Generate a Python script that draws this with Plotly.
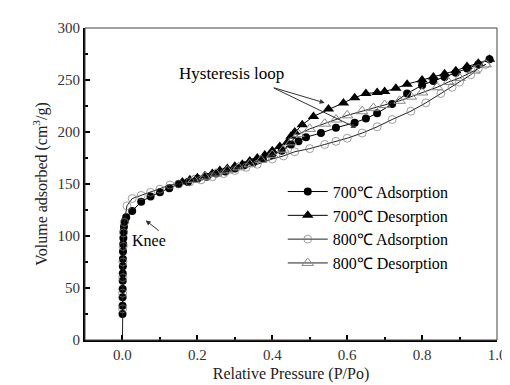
import plotly.graph_objects as go

# 700 °C adsorption
ads700_x = [0.0002, 0.0003, 0.0004, 0.0005, 0.0006, 0.0008, 0.001, 0.0012, 0.0015, 0.002, 0.0025, 0.003,
            0.004, 0.006, 0.01, 0.026, 0.05, 0.075, 0.10, 0.125, 0.15, 0.175, 0.20, 0.225, 0.25, 0.275,
            0.30, 0.325, 0.35, 0.375, 0.40, 0.425, 0.45, 0.47, 0.49, 0.53, 0.57, 0.62, 0.65, 0.68,
            0.72, 0.76, 0.80, 0.83, 0.86, 0.89, 0.92, 0.95, 0.98]
ads700_y = [25, 33, 41, 49, 57, 64, 71, 78, 85, 92, 98, 104,
            109, 114, 118, 124, 133, 138, 142, 146, 150, 152, 155, 157, 160, 162,
            165, 168, 171, 174, 178, 182, 188, 191, 195, 199, 204, 209, 213, 218,
            227, 237, 245, 249, 253, 257, 261, 265, 270]

# 700 °C desorption
des700_x = [0.98, 0.95, 0.92, 0.89, 0.86, 0.83, 0.80, 0.76, 0.73, 0.70, 0.68, 0.65, 0.62, 0.59,
            0.55, 0.51, 0.48, 0.46, 0.45, 0.44, 0.42, 0.40, 0.38, 0.36, 0.34, 0.32, 0.30, 0.28,
            0.26, 0.24, 0.22, 0.20, 0.18, 0.16]
des700_y = [270, 266, 263, 259, 256, 253, 250, 246, 242, 239, 238, 237, 233, 228,
            222, 215, 207, 200, 196, 190, 186, 182, 178, 175, 172, 169, 167, 165,
            163, 160, 158, 156, 154, 152]

# 800 °C adsorption
ads800_x = [0.0, 0.0003, 0.0005, 0.0008, 0.0012, 0.002, 0.003, 0.005, 0.012, 0.026, 0.05, 0.075,
            0.10, 0.127, 0.15, 0.18, 0.21, 0.24, 0.27, 0.30, 0.33, 0.36, 0.40, 0.43, 0.46, 0.50,
            0.54, 0.57, 0.60, 0.64, 0.68, 0.72, 0.77, 0.81, 0.85, 0.88, 0.90, 0.93, 0.95, 0.97]
ads800_y = [0, 30, 45, 60, 75, 90, 103, 113, 129, 136, 139, 142,
            145, 149, 150, 152, 154, 157, 160, 163, 166, 169, 174, 177, 181, 184,
            188, 191, 194, 199, 205, 212, 220, 228, 237, 243, 248, 255, 261, 265]
ads800_size = [0] + [8] * (len(ads800_x) - 1)

# 800 °C desorption
des800_x = [0.97, 0.94, 0.90, 0.87, 0.84, 0.80, 0.77, 0.74, 0.70, 0.67, 0.64, 0.60, 0.57,
            0.54, 0.50, 0.47, 0.45, 0.43, 0.40, 0.37, 0.34, 0.31, 0.28, 0.25, 0.22, 0.19]
des800_y = [265, 259, 252, 248, 243, 238, 234, 230, 226, 223, 220, 216, 212,
            208, 203, 198, 190, 183, 178, 173, 169, 166, 163, 160, 157, 154]

series_names = ["700℃ Adsorption", "700℃ Desorption", "800℃ Adsorption", "800℃ Desorption"]
x_ticks = [0.0, 0.2, 0.4, 0.6, 0.8, 1.0]
y_ticks = [0, 50, 100, 150, 200, 250, 300]

FONT = "Liberation Serif"

fig = go.Figure()
fig.add_trace(go.Scatter(x=ads700_x, y=ads700_y, name=series_names[0], mode="lines+markers",
                         line=dict(color="black", width=1),
                         marker=dict(symbol="circle", size=8, color="black")))
fig.add_trace(go.Scatter(x=des700_x, y=des700_y, name=series_names[1], mode="lines+markers",
                         line=dict(color="black", width=1),
                         marker=dict(symbol="triangle-up", size=10, color="black")))
fig.add_trace(go.Scatter(x=ads800_x, y=ads800_y, name=series_names[2], mode="lines+markers",
                         line=dict(color="#222", width=1),
                         marker=dict(symbol="circle-open", size=ads800_size, color="#777",
                                     line=dict(width=1))))
fig.add_trace(go.Scatter(x=des800_x, y=des800_y, name=series_names[3], mode="lines+markers",
                         line=dict(color="#222", width=1),
                         marker=dict(symbol="triangle-up-open", size=10, color="#888",
                                     line=dict(width=1))))

# frame (top/right thin)
fig.add_shape(type="rect", xref="paper", yref="paper", x0=0, y0=0, x1=1, y1=1,
              line=dict(color="#444", width=1))

# annotations
fig.add_annotation(x=0.40, y=243, text="Hysteresis loop", showarrow=False,
                   xanchor="center", yanchor="bottom", yshift=2, xshift=-41,
                   font=dict(family=FONT, size=17, color="black"))
fig.add_annotation(x=0.54, y=228, ax=0.40, ay=243, axref="x", ayref="y",
                   xref="x", yref="y", text="", showarrow=True,
                   arrowhead=2, arrowsize=1, arrowwidth=1, arrowcolor="#333")
fig.add_annotation(x=0.624, y=204, ax=0.40, ay=243, axref="x", ayref="y",
                   xref="x", yref="y", text="", showarrow=True,
                   arrowhead=2, arrowsize=1, arrowwidth=1, arrowcolor="#333")
fig.add_annotation(x=0.07, y=96, text="Knee", showarrow=False,
                   font=dict(family=FONT, size=16, color="black"))
fig.add_annotation(x=0.062, y=115, ax=0.101, ay=104, axref="x", ayref="y",
                   xref="x", yref="y", text="", showarrow=True,
                   arrowhead=2, arrowsize=1, arrowwidth=1, arrowcolor="#333")

fig.update_layout(
    width=510, height=385,
    margin=dict(l=77, r=14, t=18, b=53),
    paper_bgcolor="white", plot_bgcolor="white",
    font=dict(family=FONT, size=15, color="#222"),
    showlegend=True,
    legend=dict(x=0.48, y=0.53, xanchor="left", yanchor="top",
                bgcolor="rgba(0,0,0,0)", font=dict(family=FONT, size=16, color="black"),
                itemwidth=40, tracegroupgap=0),
)
fig.update_xaxes(range=[-0.1, 1.0], tickvals=x_ticks, ticktext=[f"{v:.1f}" for v in x_ticks],
                 ticks="inside", ticklen=5, tickwidth=2, tickcolor="black",
                 showline=True, linecolor="black", linewidth=2, showgrid=False, zeroline=False,
                 minor=dict(dtick=0.1, tick0=0, ticks="inside", ticklen=3, tickwidth=2, tickcolor="black"),
                 title=dict(text="Relative Pressure (P/Po)", font=dict(family=FONT, size=16, color="#222"),
                            standoff=6),
                 tickfont=dict(family=FONT, size=15, color="#333"))
fig.update_yaxes(range=[0, 300], tickvals=y_ticks,
                 ticks="inside", ticklen=5, tickwidth=2, tickcolor="black",
                 showline=True, linecolor="black", linewidth=2, showgrid=False, zeroline=False,
                 minor=dict(dtick=25, tick0=0, ticks="inside", ticklen=3, tickwidth=2, tickcolor="black"),
                 title=dict(text="Volume adsorbed (cm<sup>3</sup>/g)", font=dict(family=FONT, size=16, color="#222"),
                            standoff=6),
                 tickfont=dict(family=FONT, size=15, color="#333"))

fig.write_html("out.html")
